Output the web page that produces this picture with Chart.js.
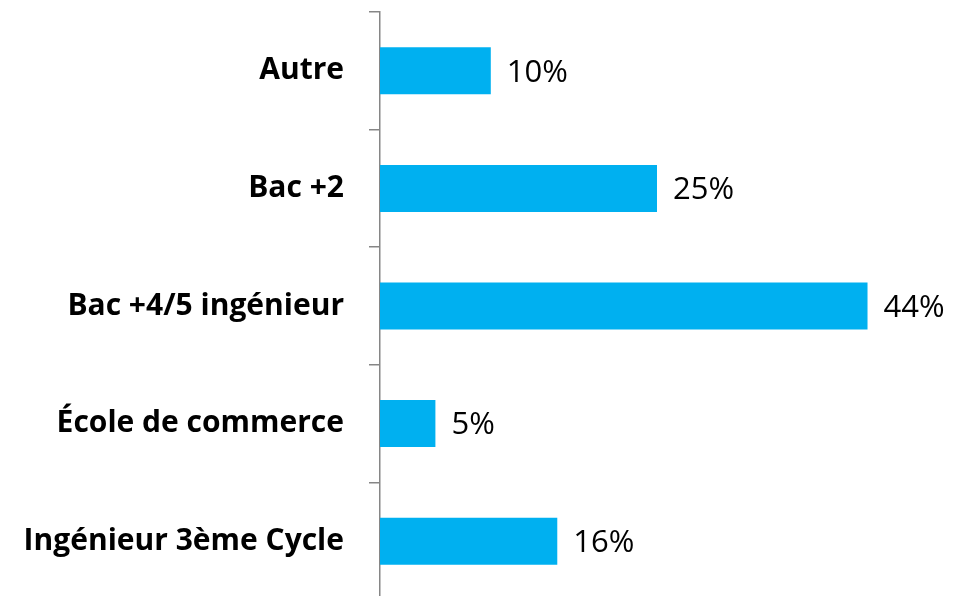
<!DOCTYPE html>
<html>
<head>
<meta charset="utf-8">
<script src="https://cdn.jsdelivr.net/npm/chart.js@4.4.0/dist/chart.umd.min.js"></script>
<style>
  html, body { margin: 0; padding: 0; background: #fff; overflow: hidden; }
  #wrap { width: 953px; height: 600px; }
</style>
</head>
<body>
<div id="wrap"><canvas id="chart" width="953" height="600"></canvas></div>
<script>
const categories = ["Autre", "Bac +2", "Bac +4/5 ingénieur", "École de commerce", "Ingénieur 3ème Cycle"];
const shares = [10, 25, 44, 5, 16];

// writes "xx%" just past the end of each bar
const valueLabels = {
  id: "valueLabels",
  afterDatasetsDraw(chart) {
    const ctx = chart.ctx;
    const meta = chart.getDatasetMeta(0);
    ctx.save();
    ctx.font = "31px 'Open Sans'";
    ctx.fillStyle = "#000";
    ctx.textAlign = "left";
    ctx.textBaseline = "middle";
    meta.data.forEach((bar, i) => {
      ctx.fillText(shares[i] + "%", bar.x + 16, bar.y + 2);
    });
    ctx.restore();
  }
};

new Chart(document.getElementById("chart"), {
  type: "bar",
  data: {
    labels: categories,
    datasets: [{
      data: shares,
      backgroundColor: "#00B0F0",
      borderWidth: 0,
      categoryPercentage: 0.4,
      barPercentage: 1
    }]
  },
  options: {
    indexAxis: "y",
    responsive: false,
    animation: false,
    layout: { padding: { top: 12, right: 19, bottom: 0, left: 0 } },
    plugins: { legend: { display: false }, tooltip: { enabled: false } },
    scales: {
      x: { display: false, min: 0, max: 50 },
      y: {
        afterFit(scale) {
          scale.width = 380;
          scale.paddingTop = 0;
          scale.paddingBottom = 0;
        },
        border: { display: true, color: "#868686", width: 1.5 },
        grid: { drawOnChartArea: false, drawTicks: true, tickLength: 11, color: "#868686", lineWidth: 1.5, offset: true },
        ticks: { color: "#000", padding: 25, font: { family: "'Open Sans'", size: 30, weight: "bold" } }
      }
    }
  },
  plugins: [valueLabels]
});
</script>
</body>
</html>
